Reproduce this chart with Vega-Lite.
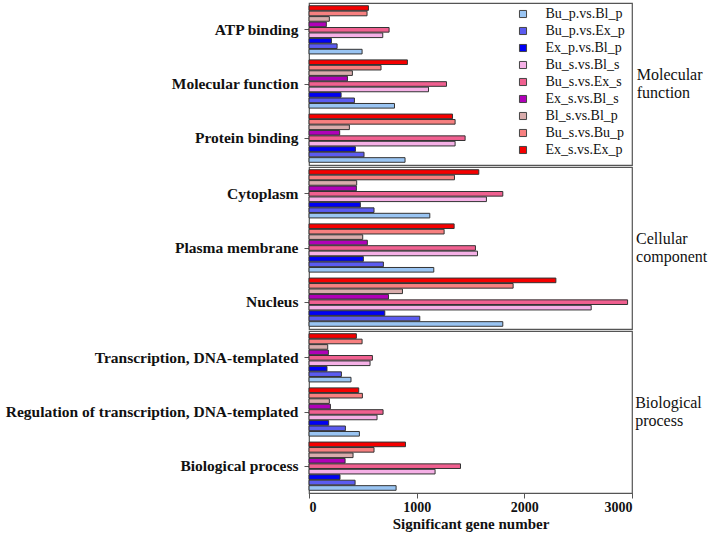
{
  "$schema": "https://vega.github.io/schema/vega-lite/v6.json",
  "background": "white",
  "padding": {"left": 2, "top": 2, "right": 2, "bottom": 5},
  "datasets": {
    "go": [
      {"group":"Molecular function","cat":"ATP binding","cmp":"Bu_p.vs.Bl_p","n":493},
      {"group":"Molecular function","cat":"ATP binding","cmp":"Bu_p.vs.Ex_p","n":261},
      {"group":"Molecular function","cat":"ATP binding","cmp":"Ex_p.vs.Bl_p","n":208},
      {"group":"Molecular function","cat":"ATP binding","cmp":"Bu_s.vs.Bl_s","n":685},
      {"group":"Molecular function","cat":"ATP binding","cmp":"Bu_s.vs.Ex_s","n":744},
      {"group":"Molecular function","cat":"ATP binding","cmp":"Ex_s.vs.Bl_s","n":161},
      {"group":"Molecular function","cat":"ATP binding","cmp":"Bl_s.vs.Bl_p","n":189},
      {"group":"Molecular function","cat":"ATP binding","cmp":"Bu_s.vs.Bu_p","n":539},
      {"group":"Molecular function","cat":"ATP binding","cmp":"Ex_s.vs.Ex_p","n":552},
      {"group":"Molecular function","cat":"Molecular function","cmp":"Bu_p.vs.Bl_p","n":794},
      {"group":"Molecular function","cat":"Molecular function","cmp":"Bu_p.vs.Ex_p","n":422},
      {"group":"Molecular function","cat":"Molecular function","cmp":"Ex_p.vs.Bl_p","n":298},
      {"group":"Molecular function","cat":"Molecular function","cmp":"Bu_s.vs.Bl_s","n":1110},
      {"group":"Molecular function","cat":"Molecular function","cmp":"Bu_s.vs.Ex_s","n":1277},
      {"group":"Molecular function","cat":"Molecular function","cmp":"Ex_s.vs.Bl_s","n":357},
      {"group":"Molecular function","cat":"Molecular function","cmp":"Bl_s.vs.Bl_p","n":403},
      {"group":"Molecular function","cat":"Molecular function","cmp":"Bu_s.vs.Bu_p","n":669},
      {"group":"Molecular function","cat":"Molecular function","cmp":"Ex_s.vs.Ex_p","n":914},
      {"group":"Molecular function","cat":"Protein binding","cmp":"Bu_p.vs.Bl_p","n":892},
      {"group":"Molecular function","cat":"Protein binding","cmp":"Bu_p.vs.Ex_p","n":511},
      {"group":"Molecular function","cat":"Protein binding","cmp":"Ex_p.vs.Bl_p","n":431},
      {"group":"Molecular function","cat":"Protein binding","cmp":"Bu_s.vs.Bl_s","n":1357},
      {"group":"Molecular function","cat":"Protein binding","cmp":"Bu_s.vs.Ex_s","n":1450},
      {"group":"Molecular function","cat":"Protein binding","cmp":"Ex_s.vs.Bl_s","n":285},
      {"group":"Molecular function","cat":"Protein binding","cmp":"Bl_s.vs.Bl_p","n":375},
      {"group":"Molecular function","cat":"Protein binding","cmp":"Bu_s.vs.Bu_p","n":1357},
      {"group":"Molecular function","cat":"Protein binding","cmp":"Ex_s.vs.Ex_p","n":1333},
      {"group":"Cellular component","cat":"Cytoplasm","cmp":"Bu_p.vs.Bl_p","n":1122},
      {"group":"Cellular component","cat":"Cytoplasm","cmp":"Bu_p.vs.Ex_p","n":604},
      {"group":"Cellular component","cat":"Cytoplasm","cmp":"Ex_p.vs.Bl_p","n":477},
      {"group":"Cellular component","cat":"Cytoplasm","cmp":"Bu_s.vs.Bl_s","n":1648},
      {"group":"Cellular component","cat":"Cytoplasm","cmp":"Bu_s.vs.Ex_s","n":1800},
      {"group":"Cellular component","cat":"Cytoplasm","cmp":"Ex_s.vs.Bl_s","n":440},
      {"group":"Cellular component","cat":"Cytoplasm","cmp":"Bl_s.vs.Bl_p","n":443},
      {"group":"Cellular component","cat":"Cytoplasm","cmp":"Bu_s.vs.Bu_p","n":1351},
      {"group":"Cellular component","cat":"Cytoplasm","cmp":"Ex_s.vs.Ex_p","n":1577},
      {"group":"Cellular component","cat":"Plasma membrane","cmp":"Bu_p.vs.Bl_p","n":1159},
      {"group":"Cellular component","cat":"Plasma membrane","cmp":"Bu_p.vs.Ex_p","n":691},
      {"group":"Cellular component","cat":"Plasma membrane","cmp":"Ex_p.vs.Bl_p","n":505},
      {"group":"Cellular component","cat":"Plasma membrane","cmp":"Bu_s.vs.Bl_s","n":1565},
      {"group":"Cellular component","cat":"Plasma membrane","cmp":"Bu_s.vs.Ex_s","n":1546},
      {"group":"Cellular component","cat":"Plasma membrane","cmp":"Ex_s.vs.Bl_s","n":542},
      {"group":"Cellular component","cat":"Plasma membrane","cmp":"Bl_s.vs.Bl_p","n":499},
      {"group":"Cellular component","cat":"Plasma membrane","cmp":"Bu_s.vs.Bu_p","n":1255},
      {"group":"Cellular component","cat":"Plasma membrane","cmp":"Ex_s.vs.Ex_p","n":1348},
      {"group":"Cellular component","cat":"Nucleus","cmp":"Bu_p.vs.Bl_p","n":1800},
      {"group":"Cellular component","cat":"Nucleus","cmp":"Bu_p.vs.Ex_p","n":1029},
      {"group":"Cellular component","cat":"Nucleus","cmp":"Ex_p.vs.Bl_p","n":704},
      {"group":"Cellular component","cat":"Nucleus","cmp":"Bu_s.vs.Bl_s","n":2621},
      {"group":"Cellular component","cat":"Nucleus","cmp":"Bu_s.vs.Ex_s","n":2959},
      {"group":"Cellular component","cat":"Nucleus","cmp":"Ex_s.vs.Bl_s","n":738},
      {"group":"Cellular component","cat":"Nucleus","cmp":"Bl_s.vs.Bl_p","n":868},
      {"group":"Cellular component","cat":"Nucleus","cmp":"Bu_s.vs.Bu_p","n":1896},
      {"group":"Cellular component","cat":"Nucleus","cmp":"Ex_s.vs.Ex_p","n":2293},
      {"group":"Biological process","cat":"Transcription, DNA-templated","cmp":"Bu_p.vs.Bl_p","n":390},
      {"group":"Biological process","cat":"Transcription, DNA-templated","cmp":"Bu_p.vs.Ex_p","n":301},
      {"group":"Biological process","cat":"Transcription, DNA-templated","cmp":"Ex_p.vs.Bl_p","n":167},
      {"group":"Biological process","cat":"Transcription, DNA-templated","cmp":"Bu_s.vs.Bl_s","n":567},
      {"group":"Biological process","cat":"Transcription, DNA-templated","cmp":"Bu_s.vs.Ex_s","n":589},
      {"group":"Biological process","cat":"Transcription, DNA-templated","cmp":"Ex_s.vs.Bl_s","n":180},
      {"group":"Biological process","cat":"Transcription, DNA-templated","cmp":"Bl_s.vs.Bl_p","n":174},
      {"group":"Biological process","cat":"Transcription, DNA-templated","cmp":"Bu_s.vs.Bu_p","n":493},
      {"group":"Biological process","cat":"Transcription, DNA-templated","cmp":"Ex_s.vs.Ex_p","n":440},
      {"group":"Biological process","cat":"Regulation of transcription, DNA-templated","cmp":"Bu_p.vs.Bl_p","n":468},
      {"group":"Biological process","cat":"Regulation of transcription, DNA-templated","cmp":"Bu_p.vs.Ex_p","n":338},
      {"group":"Biological process","cat":"Regulation of transcription, DNA-templated","cmp":"Ex_p.vs.Bl_p","n":183},
      {"group":"Biological process","cat":"Regulation of transcription, DNA-templated","cmp":"Bu_s.vs.Bl_s","n":632},
      {"group":"Biological process","cat":"Regulation of transcription, DNA-templated","cmp":"Bu_s.vs.Ex_s","n":688},
      {"group":"Biological process","cat":"Regulation of transcription, DNA-templated","cmp":"Ex_s.vs.Bl_s","n":199},
      {"group":"Biological process","cat":"Regulation of transcription, DNA-templated","cmp":"Bl_s.vs.Bl_p","n":189},
      {"group":"Biological process","cat":"Regulation of transcription, DNA-templated","cmp":"Bu_s.vs.Bu_p","n":496},
      {"group":"Biological process","cat":"Regulation of transcription, DNA-templated","cmp":"Ex_s.vs.Ex_p","n":462},
      {"group":"Biological process","cat":"Biological process","cmp":"Bu_p.vs.Bl_p","n":809},
      {"group":"Biological process","cat":"Biological process","cmp":"Bu_p.vs.Ex_p","n":428},
      {"group":"Biological process","cat":"Biological process","cmp":"Ex_p.vs.Bl_p","n":288},
      {"group":"Biological process","cat":"Biological process","cmp":"Bu_s.vs.Bl_s","n":1171},
      {"group":"Biological process","cat":"Biological process","cmp":"Bu_s.vs.Ex_s","n":1407},
      {"group":"Biological process","cat":"Biological process","cmp":"Ex_s.vs.Bl_s","n":335},
      {"group":"Biological process","cat":"Biological process","cmp":"Bl_s.vs.Bl_p","n":409},
      {"group":"Biological process","cat":"Biological process","cmp":"Bu_s.vs.Bu_p","n":604},
      {"group":"Biological process","cat":"Biological process","cmp":"Ex_s.vs.Ex_p","n":896}
    ]
  },
  "spacing": 0,
  "vconcat": [
    {
      "data": {"name": "go"},
      "transform": [{"filter": "datum.group === 'Molecular function'"}],
      "width": 323,
      "height": 162,
      "title": {"text": ["Molecular", "function"], "orient": "right", "angle": 0, "align": "left", "baseline": "middle", "anchor": "middle", "offset": -61, "dy": -9},
      "mark": {"type": "bar", "stroke": "#333", "strokeWidth": 1},
      "encoding": {
        "y": {"field": "cat", "type": "nominal", "sort": ["ATP binding", "Molecular function", "Protein binding"], "scale": {"paddingInner": 0.11, "paddingOuter": 0.05}, "axis": {"title": null}},
        "yOffset": {"field": "cmp", "type": "nominal", "sort": ["Ex_s.vs.Ex_p", "Bu_s.vs.Bu_p", "Bl_s.vs.Bl_p", "Ex_s.vs.Bl_s", "Bu_s.vs.Ex_s", "Bu_s.vs.Bl_s", "Ex_p.vs.Bl_p", "Bu_p.vs.Ex_p", "Bu_p.vs.Bl_p"], "scale": {"paddingInner": 0.15, "paddingOuter": 0}},
        "x": {"field": "n", "type": "quantitative", "scale": {"domain": [0, 3000], "nice": false}, "axis": null},
        "color": {
          "field": "cmp", "type": "nominal",
          "scale": {
            "domain": ["Bu_p.vs.Bl_p", "Bu_p.vs.Ex_p", "Ex_p.vs.Bl_p", "Bu_s.vs.Bl_s", "Bu_s.vs.Ex_s", "Ex_s.vs.Bl_s", "Bl_s.vs.Bl_p", "Bu_s.vs.Bu_p", "Ex_s.vs.Ex_p"],
            "range": ["#99c4f2", "#5b5bf0", "#0000f5", "#f5b0e6", "#f06090", "#b000b8", "#d9acac", "#f78080", "#f50000"]
          }
        }
      }
    },
    {
      "data": {"name": "go"},
      "transform": [{"filter": "datum.group === 'Cellular component'"}],
      "width": 323,
      "height": 162,
      "title": {"text": ["Cellular", "component"], "orient": "right", "angle": 0, "align": "left", "baseline": "middle", "anchor": "middle", "offset": -67, "dy": -9},
      "mark": {"type": "bar", "stroke": "#333", "strokeWidth": 1},
      "encoding": {
        "y": {"field": "cat", "type": "nominal", "sort": ["Cytoplasm", "Plasma membrane", "Nucleus"], "scale": {"paddingInner": 0.11, "paddingOuter": 0.05}, "axis": {"title": null}},
        "yOffset": {"field": "cmp", "type": "nominal", "sort": ["Ex_s.vs.Ex_p", "Bu_s.vs.Bu_p", "Bl_s.vs.Bl_p", "Ex_s.vs.Bl_s", "Bu_s.vs.Ex_s", "Bu_s.vs.Bl_s", "Ex_p.vs.Bl_p", "Bu_p.vs.Ex_p", "Bu_p.vs.Bl_p"], "scale": {"paddingInner": 0.15, "paddingOuter": 0}},
        "x": {"field": "n", "type": "quantitative", "scale": {"domain": [0, 3000], "nice": false}, "axis": null},
        "color": {"field": "cmp", "type": "nominal"}
      }
    },
    {
      "data": {"name": "go"},
      "transform": [{"filter": "datum.group === 'Biological process'"}],
      "width": 323,
      "height": 162,
      "title": {"text": ["Biological", "process"], "orient": "right", "angle": 0, "align": "left", "baseline": "middle", "anchor": "middle", "offset": -64, "dy": -9},
      "mark": {"type": "bar", "stroke": "#333", "strokeWidth": 1},
      "encoding": {
        "y": {"field": "cat", "type": "nominal", "sort": ["Transcription, DNA-templated", "Regulation of transcription, DNA-templated", "Biological process"], "scale": {"paddingInner": 0.11, "paddingOuter": 0.05}, "axis": {"title": null}},
        "yOffset": {"field": "cmp", "type": "nominal", "sort": ["Ex_s.vs.Ex_p", "Bu_s.vs.Bu_p", "Bl_s.vs.Bl_p", "Ex_s.vs.Bl_s", "Bu_s.vs.Ex_s", "Bu_s.vs.Bl_s", "Ex_p.vs.Bl_p", "Bu_p.vs.Ex_p", "Bu_p.vs.Bl_p"], "scale": {"paddingInner": 0.15, "paddingOuter": 0}},
        "x": {
          "field": "n", "type": "quantitative",
          "scale": {"domain": [0, 3000], "nice": false},
          "axis": {
            "title": "Significant gene number",
            "values": [0, 1000, 2000, 3000],
            "format": "d",
            "labelFontSize": 14,
            "titleFontSize": 15,
            "labelPadding": 2,
            "titlePadding": 2
          }
        },
        "color": {"field": "cmp", "type": "nominal"}
      }
    }
  ],
  "resolve": {"scale": {"y": "independent", "yOffset": "independent", "x": "shared", "color": "shared"}},
  "config": {
    "view": {"stroke": "#555", "strokeWidth": 1.2},
    "title": {
      "font": "Liberation Serif",
      "fontSize": 16,
      "fontWeight": "normal",
      "color": "#111",
      "lineHeight": 18
    },
    "axisY": {
      "labelFont": "Liberation Serif",
      "labelFontWeight": "bold",
      "labelFontSize": 15.5,
      "labelColor": "#111",
      "labelLimit": 400,
      "tickColor": "#555",
      "tickSize": 5,
      "labelPadding": 6,
      "domain": false,
      "minExtent": 306,
      "maxExtent": 306
    },
    "axisX": {
      "grid": false,
      "domain": false,
      "labelFont": "Liberation Serif",
      "labelFontWeight": "bold",
      "labelColor": "#111",
      "tickColor": "#555",
      "tickSize": 5,
      "titleFont": "Liberation Serif",
      "titleFontWeight": "bold",
      "titleColor": "#111"
    },
    "legend": {
      "title": null,
      "orient": "none",
      "legendX": 207,
      "legendY": 4,
      "symbolType": "square",
      "symbolSize": 50,
      "symbolStrokeColor": "#444",
      "symbolStrokeWidth": 1,
      "symbolOpacity": 1,
      "labelFont": "Liberation Serif",
      "labelFontSize": 14,
      "labelColor": "#111",
      "labelOffset": 15.5,
      "rowPadding": 3
    }
  }
}
